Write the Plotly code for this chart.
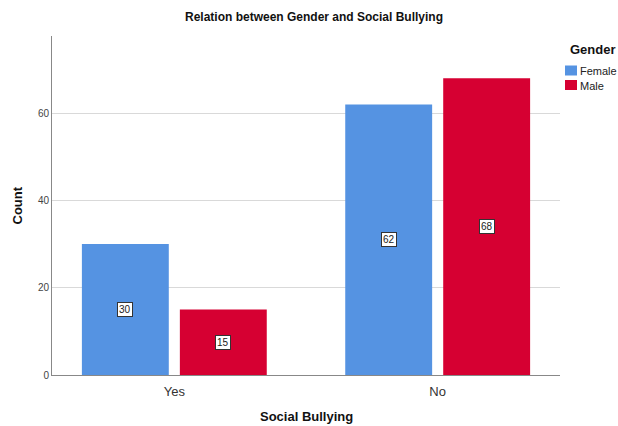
import plotly.graph_objects as go

categories = ["Yes", "No"]
series_names = ["Female", "Male"]
female_counts = [30, 62]
male_counts = [15, 68]
colors = ["#5593E2", "#D60032"]
y_ticks = [0, 20, 40, 60]

values = [female_counts, male_counts]
FONT = "Liberation Sans, Arial, sans-serif"

fig = go.Figure()
xs = list(range(len(categories)))
for name, vals, col in zip(series_names, values, colors):
    fig.add_trace(go.Bar(
        x=xs, y=vals, name=name,
        marker=dict(color=col, line=dict(width=0)),
        showlegend=False, hoverinfo="skip",
    ))

bargap = 0.256
bargroupgap = 0.113
slot = (1 - bargap) / len(series_names)
annotations = []
for si, vals in enumerate(values):
    off = -(1 - bargap) / 2 + slot * (si + 0.5)
    for ci, v in enumerate(vals):
        annotations.append(dict(
            x=ci + off, y=v / 2, xref="x", yref="y", text=str(v),
            showarrow=False, font=dict(family=FONT, size=10, color="#222"),
            bgcolor="white", bordercolor="#333", borderwidth=1, borderpad=1,
        ))

# Axis titles
annotations.append(dict(
    text="<b>Count</b>", xref="paper", yref="paper", x=0, y=0.5,
    xshift=-35, xanchor="center", yanchor="middle", textangle=-90, showarrow=False,
    font=dict(family=FONT, size=13, color="#111"),
))
annotations.append(dict(
    text="<b>Social Bullying</b>", xref="paper", yref="paper", x=0.5, y=0,
    yshift=-41, yanchor="middle", showarrow=False,
    font=dict(family=FONT, size=13, color="#111"),
))

# Legend (manual)
annotations.append(dict(
    text="<b>Gender</b>", xref="paper", yref="paper", x=1, y=1,
    xshift=8, yshift=-13, xanchor="left", yanchor="middle", showarrow=False,
    font=dict(family=FONT, size=13, color="#111"),
))
shapes = []
W, H = 618, 426
ml, mr, mt, mb = 52, 58, 36, 51
pw, ph = W - ml - mr, H - mt - mb
for i, (name, col) in enumerate(zip(series_names, colors)):
    ytop = 65.5 + i * 14.5
    x0 = 565
    shapes.append(dict(
        type="rect", xref="paper", yref="paper",
        x0=(x0 - ml) / pw, x1=(x0 + 12 - ml) / pw,
        y0=1 - (ytop - mt) / ph, y1=1 - (ytop + 10 - mt) / ph,
        fillcolor=col, line=dict(width=0),
    ))
    annotations.append(dict(
        text=name, xref="paper", yref="paper",
        x=(x0 + 13 - ml) / pw, y=1 - (ytop + 5.5 - mt) / ph,
        xanchor="left", yanchor="middle", showarrow=False,
        font=dict(family=FONT, size=11, color="#222"),
    ))

fig.update_layout(
    width=W, height=H,
    margin=dict(l=ml, r=mr, t=mt, b=mb),
    paper_bgcolor="white", plot_bgcolor="white",
    barmode="group", bargap=bargap, bargroupgap=bargroupgap,
    title=dict(text="<b>Relation between Gender and Social Bullying</b>",
               x=314 / W, xanchor="center", y=1 - 17 / H, yanchor="middle",
               yref="container",
               font=dict(family=FONT, size=12, color="#111")),
    xaxis=dict(
        range=[-0.4645, 1.4645], tickmode="array", tickvals=xs, ticktext=categories,
        showgrid=False, zeroline=False, showline=True, linecolor="#888", linewidth=1,
        ticks="", ticklabelstandoff=4,
        tickfont=dict(family=FONT, size=13, color="#333"),
    ),
    yaxis=dict(
        range=[0, 77.7], tickmode="array", tickvals=y_ticks,
        showgrid=True, gridcolor="#d9d9d9", gridwidth=1, zeroline=False,
        showline=True, linecolor="#888", linewidth=1, ticks="",
        tickfont=dict(family=FONT, size=10, color="#444"),
    ),
    annotations=annotations, shapes=shapes,
)

fig.write_html("out.html")
